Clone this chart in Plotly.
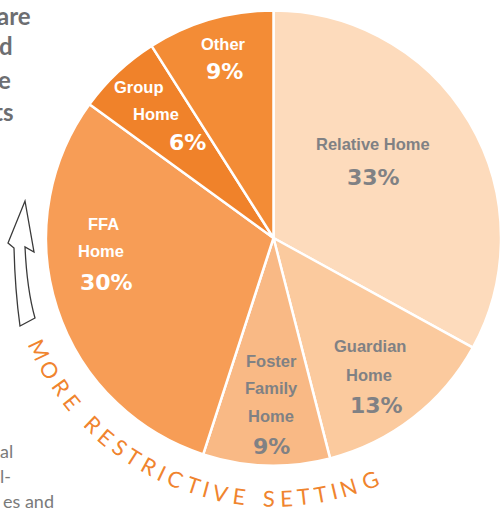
import math
import plotly.graph_objects as go

# ---------------- data ----------------
labels = ["Relative Home", "Guardian Home", "Foster Family Home", "FFA Home", "Group Home", "Other"]
values = [33, 13, 9, 30, 6, 9]
slice_colors = ["#FDDBBC", "#FBCA9E", "#F9B985", "#F79D56", "#F0822A", "#F38C36"]
label_lines = {
    "Relative Home": ["Relative Home"],
    "Guardian Home": ["Guardian", "Home"],
    "Foster Family Home": ["Foster", "Family", "Home"],
    "FFA Home": ["FFA", "Home"],
    "Group Home": ["Group", "Home"],
    "Other": ["Other"],
}
arc_text = "MORE RESTRICTIVE SETTING"
side_text_top = ["are", "d", "e", "ts"]
side_text_bottom = ["al", "al-", "es and"]

# ---------------- layout constants ----------------
W, H = 501, 510
CX, CY = 274, 238           # pie centre in pixels (from top-left)

def px(x):
    return x / W

def py(y):
    return 1 - y / H

label_pos = {
    "Relative Home": [(373, 144)],
    "Guardian Home": [(370, 346), (369, 375)],
    "Foster Family Home": [(271, 361), (271, 388), (271, 416)],
    "FFA Home": [(103, 224), (101, 251)],
    "Group Home": [(139, 87), (156, 114)],
    "Other": [(223, 44)],
}
pct_pos = {
    "Relative Home": (373, 177),
    "Guardian Home": (376, 405),
    "Foster Family Home": (271, 446),
    "FFA Home": (106, 282),
    "Group Home": (187, 142),
    "Other": (224, 72),
}
label_color = {
    "Relative Home": "#808184", "Guardian Home": "#808184", "Foster Family Home": "#808184",
    "FFA Home": "white", "Group Home": "white", "Other": "white",
}

fig = go.Figure(go.Pie(
    labels=labels,
    values=values,
    sort=False,
    direction="clockwise",
    rotation=0,
    marker=dict(colors=slice_colors, line=dict(color="white", width=2.5)),
    textinfo="none",
    hoverinfo="label+percent",
    domain=dict(x=[46 / W, 1.0], y=[43 / H, 501 / H]),
    showlegend=False,
))

annotations = []
for lab, v in zip(labels, values):
    for line, (xx, yy) in zip(label_lines[lab], label_pos[lab]):
        annotations.append(dict(
            x=px(xx), y=py(yy), xref="paper", yref="paper",
            text=f"<b>{line}</b>", showarrow=False, xanchor="center", yanchor="middle",
            font=dict(family="Liberation Sans, Arial", size=16.5, color=label_color[lab]),
        ))
    pxp, pyp = pct_pos[lab]
    annotations.append(dict(
        x=px(pxp), y=py(pyp), xref="paper", yref="paper",
        text=f"<b>{v}%</b>", showarrow=False, xanchor="center", yanchor="middle",
        font=dict(family="DejaVu Sans", size=22, color=label_color[lab]),
    ))

# curved text along an arc
adv = {"M": 1.25, "O": 1.25, "R": 1.05, "E": 0.95, " ": 0.7, "S": 0.95, "T": 0.95,
       "I": 0.55, "C": 1.1, "V": 1.1, "N": 1.2, "G": 1.25}
th_start, th_end, R = 154.5, 68.4, 260
gaps = [(adv[a] + adv[b]) / 2 for a, b in zip(arc_text[:-1], arc_text[1:])]
scale = (th_start - th_end) / sum(gaps)
th = th_start
for i, ch in enumerate(arc_text):
    if i > 0:
        th -= gaps[i - 1] * scale
    if ch == " ":
        continue
    x = CX + R * math.cos(math.radians(th))
    y = CY + R * math.sin(math.radians(th))
    annotations.append(dict(
        x=px(x), y=py(y), xref="paper", yref="paper", text=ch, showarrow=False,
        xanchor="center", yanchor="middle", textangle=th - 90,
        height=18, borderpad=0,
        font=dict(family="Lato", size=22, color="#F0842E"),
    ))

# clipped side paragraphs
top_right = [33, 15, 13, 15]
top_y = [15, 45, 79, 111]
for t, xr, yy in zip(side_text_top, top_right, top_y):
    annotations.append(dict(
        x=px(xr), y=py(yy), xref="paper", yref="paper", text=f"<b>{t}</b>", showarrow=False,
        xanchor="right", yanchor="middle",
        font=dict(family="Lato", size=24, color="#6D6E71"),
    ))
bot_right = [15, 13, 56]
bot_y = [451, 476, 501]
for t, xr, yy in zip(side_text_bottom, bot_right, bot_y):
    annotations.append(dict(
        x=px(xr), y=py(yy), xref="paper", yref="paper", text=t, showarrow=False,
        xanchor="right", yanchor="middle",
        font=dict(family="Lato", size=18, color="#7A7A7A"),
    ))

# hand-drawn style upward arrow
pts = [(20, 326), (15, 290), (14, 248), (8, 243), (25, 201), (34, 252), (25, 247), (27, 290), (35, 318)]
def P(p):
    return f"{px(p[0]):.5f},{py(p[1]):.5f}"
path = (f"M {P(pts[0])} Q {P(pts[1])} {P(pts[2])} L {P(pts[3])} L {P(pts[4])} L {P(pts[5])} "
        f"L {P(pts[6])} Q {P(pts[7])} {P(pts[8])} Z")
shapes = [dict(type="path", xref="paper", yref="paper", path=path,
               line=dict(color="#3A3A3A", width=1.3), fillcolor="white")]

fig.update_layout(
    width=W, height=H,
    margin=dict(l=0, r=0, t=0, b=0),
    paper_bgcolor="white", plot_bgcolor="white",
    annotations=annotations,
    shapes=shapes,
)
fig.write_html(
    "out.html",
    config={"displayModeBar": False},
    post_script="document.body.style.margin='0';document.body.style.overflow='hidden';",
)
